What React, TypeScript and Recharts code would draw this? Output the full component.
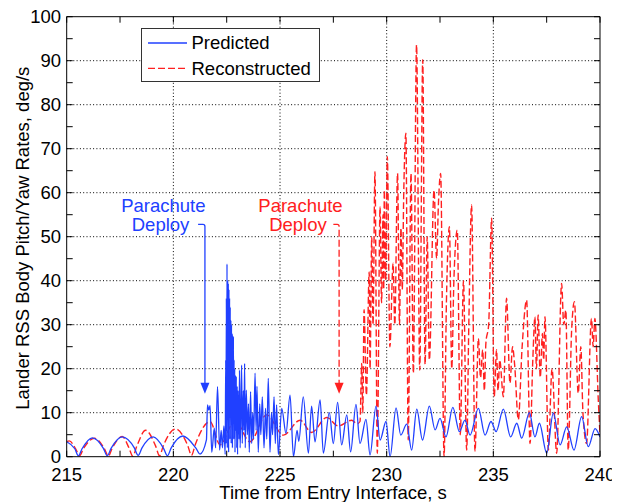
import React from 'react';
import { LineChart, Line, XAxis, YAxis, ReferenceLine, ReferenceDot, Legend } from 'recharts';

const predictedTime = [
  215.0, 215.38, 215.55, 215.72, 216.2, 216.72, 216.9, 217.08, 217.6, 218.17, 218.35, 218.53, 219.05, 219.54, 219.72,
  219.9, 220.45, 221.05, 221.25, 221.55, 221.6, 221.66, 221.72, 221.8,
  221.92, 221.98, 222.07, 222.17, 222.24, 222.3, 222.37, 222.43, 222.455, 222.47, 222.485, 222.5, 222.515, 222.53,
  222.545, 222.56, 222.575, 222.59, 222.605, 222.62, 222.635, 222.65, 222.665, 222.68, 222.695, 222.71, 222.725,
  222.74, 222.755, 222.77, 222.785, 222.8, 222.815, 222.83, 222.845, 222.86, 222.875, 222.89, 222.91, 222.93,
  222.95, 222.97, 222.99, 223.01, 223.03, 223.08, 223.1, 223.13, 223.17, 223.2, 223.23, 223.28, 223.31, 223.34,
  223.37, 223.42, 223.47, 223.52, 223.56, 223.62, 223.67, 223.72, 223.76, 223.83, 223.88, 223.92, 223.98, 224.05,
  224.1, 224.17, 224.25, 224.32, 224.38, 224.45, 224.53, 224.6, 224.65, 224.72, 224.78, 224.84, 224.92, 225.08,
  225.28, 225.47, 225.63, 225.8, 225.88, 226.09, 226.33, 226.48, 226.64, 226.88, 227.03, 227.31, 227.5, 227.7,
  227.89, 228.13, 228.31, 228.56, 228.75, 229.03, 229.22, 229.5, 229.69, 229.97, 230.16, 230.44, 230.66, 230.94,
  231.17, 231.41, 231.68, 232.0, 232.27, 232.5, 232.78, 233.1, 233.41, 233.67, 233.91, 234.3, 234.61, 234.89,
  235.13, 235.47, 235.81, 236.1, 236.33, 236.69, 236.95, 237.16, 237.5, 237.81, 238.13, 238.44, 238.78, 239.14,
  239.45, 239.77, 240.0,
];
const predictedRate = [
  3.4, 1.8, 0.2, 1.8, 4.3, 1.9, 0.2, 1.9, 4.5, 2.0, 0.3, 2.0, 4.5, 1.9, 0.2,
  2.0, 4.7, 2.0, 0.6, 3.8, 11.8, 10.6, 11.6, 1.0,
  6.5, 2.0, 15.9, 1.5, 6.0, 2.0, 7.0, 0.5, 22.0, 3.0, 36.0, 6.0, 43.8, 2.0,
  40.0, 9.0, 39.4, 1.0, 38.0, 12.0, 36.0, 4.0, 34.0, 14.0, 31.0, 3.0, 30.0,
  10.0, 28.0, 2.0, 27.5, 11.0, 27.3, 4.0, 22.0, 8.0, 20.0, 1.0, 18.5, 6.0,
  18.2, 2.0, 16.0, 0.5, 15.0, 4.0, 19.7, 2.0, 12.0, 20.8, 3.0, 15.0, 6.0, 21.2,
  2.0, 15.1, 5.0, 12.0, 1.0, 14.8, 3.0, 10.0, 4.0, 19.0, 6.0, 16.0, 1.0, 12.0,
  5.0, 13.6, 2.0, 11.0, 4.0, 17.8, 1.0, 10.0, 5.0, 13.6, 3.0, 11.8, 0.5, 11.0,
  5.3, 14.0, 0.0, 6.0, 3.5, 13.6, 0.8, 11.5, 3.4, 12.9, 0.8, 10.0, 3.0, 12.35,
  2.7, 9.5, 1.1, 11.9, 3.0, 8.5, 0.4, 11.5, 3.8, 8.0, 0.0, 11.1, 4.9, 7.4,
  1.5, 10.8, 3.8, 11.5, 6.1, 8.7, 4.5, 11.2, 5.7, 8.3, 4.9, 11.0, 4.9, 8.0,
  5.7, 10.8, 4.5, 7.6, 4.2, 10.0, 4.5, 7.6, 0.8, 9.9, 2.7, 6.8, 1.5, 9.1,
  2.3, 6.4, 4.5,
];

const reconstructedTime = [
  215.0, 215.12, 215.42, 215.6, 215.78, 216.3, 216.77, 216.95, 217.13, 217.6, 217.92, 218.1, 218.28, 218.7, 219.17,
  219.35, 219.53, 220.1, 220.67, 220.85, 221.03, 221.72, 222.19, 222.89, 223.59,
  224.37, 225.16, 225.94, 226.48, 227.19, 227.73, 228.36, 228.62, 228.75, 228.83, 228.88, 228.94, 229.05, 229.18,
  229.22, 229.3, 229.36, 229.45, 229.56, 229.69, 229.76, 229.83, 229.86, 229.89, 229.95, 230.03, 230.15, 230.3,
  230.38, 230.51, 230.6, 230.67, 230.73, 230.8, 230.9, 231.01, 231.14, 231.25, 231.4, 231.55, 231.69, 231.8, 231.9,
  232.0, 232.22, 232.34, 232.43, 232.53, 232.69, 232.8, 232.94, 233.05, 233.15, 233.31, 233.45, 233.6, 233.75,
  233.85, 233.98, 234.14, 234.3, 234.4, 234.5, 234.58, 234.65, 234.78, 234.92, 235.04, 235.15, 235.22, 235.3,
  235.47, 235.62, 235.78, 235.9, 236.0, 236.17, 236.35, 236.56, 236.72, 236.85, 236.95, 237.02, 237.1, 237.2,
  237.3, 237.36, 237.42, 237.58, 237.75, 237.97, 238.2, 238.3, 238.4, 238.51, 238.67, 238.8, 238.98, 239.1, 239.2,
  239.37, 239.6, 239.68, 239.76, 239.92, 240.0,
];
const reconstructedRate = [
  3.4, 3.6, 1.8, 0.2, 1.8, 4.2, 1.8, 0.1, 1.9, 4.6, 2.0, 0.1, 2.3, 6.0, 2.4,
  0.2, 2.5, 6.3, 2.6, 0.3, 2.8, 8.0, 2.7, 8.3, 3.4,
  9.5, 4.9, 8.3, 5.5, 8.9, 7.0, 8.3, 7.5, 8.0, 21.2, 10, 33.4, 14, 42,
  20, 50, 30, 64.8, 0.8, 56.8, 35, 55, 38, 60.6, 40, 68.2, 25, 44,
  30, 64.4, 30, 52, 38, 60, 73.5, 3.8, 64.4, 19, 93.6, 19.7, 90.2, 21, 50,
  22, 60.6, 45, 58, 64.4, 0, 35, 52.3, 20, 40, 51.5, 5, 40, 1.5,
  30, 57.2, 1.2, 26.9, 18, 24.3, 15, 25.8, 30, 54.2, 13.6, 24.3, 15, 22,
  13.6, 36, 16.7, 25, 20.8, 8.4, 25, 35.6, 3, 22, 31.8, 20, 32.2, 18,
  28, 22, 31.8, 1.5, 20, 0.8, 39.4, 30, 33.3, 1.5, 28.8, 35.2, 14.4, 25, 10,
  3, 31.4, 25, 31.4, 12.9, 5,
];

const xTicks = [215, 217.5, 220, 222.5, 225, 227.5, 230, 232.5, 235, 237.5, 240];
const xLabelTicks = [215, 220, 225, 230, 235, 240];
const yTicks = [0, 5, 10, 15, 20, 25, 30, 35, 40, 45, 50, 55, 60, 65, 70, 75, 80, 85, 90, 95, 100];
const yLabelTicks = [0, 10, 20, 30, 40, 50, 60, 70, 80, 90, 100];
const xGrid = [220, 225, 230, 235];
const yGrid = [10, 20, 30, 40, 50, 60, 70, 80, 90];

const predictedDeploy = { t: 221.48, tip: 14.3, hookT: 221.16, hookV: 52.8 };
const reconstructedDeploy = { t: 227.77, tip: 14.3, hookT: 227.5, hookV: 52.8 };

const BLUE = '#2040ff';
const RED = '#ff2020';
const FONT = '"Liberation Sans", Arial, Helvetica, sans-serif';
const FS = 18.5;

const predictedData = predictedTime.map((t, i) => ({ t, v: predictedRate[i] }));
const reconstructedData = reconstructedTime.map((t, i) => ({ t, v: reconstructedRate[i] }));

const BottomTick = (props: any) => {
  const { x, y, payload } = props;
  const v = payload.value;
  return (
    <g>
      <line x1={x} y1={y} x2={x} y2={y - 6} stroke="#000" strokeWidth={1} />
      {xLabelTicks.includes(v) && (
        <text x={x} y={y + 24} textAnchor="middle" fontSize={FS} fontFamily={FONT} fill="#000">{v}</text>
      )}
    </g>
  );
};
const TopTick = (props: any) => {
  const { x, y } = props;
  return <line x1={x} y1={y} x2={x} y2={y + 6} stroke="#000" strokeWidth={1} />;
};
const LeftTick = (props: any) => {
  const { x, y, payload } = props;
  const v = payload.value;
  return (
    <g>
      <line x1={x} y1={y} x2={x + 6} y2={y} stroke="#000" strokeWidth={1} />
      {yLabelTicks.includes(v) && (
        <text x={x - 5.7} y={y} dy="0.35em" textAnchor="end" fontSize={FS} fontFamily={FONT} fill="#000">{v}</text>
      )}
    </g>
  );
};
const RightTick = (props: any) => {
  const { x, y } = props;
  return <line x1={x} y1={y} x2={x - 6} y2={y} stroke="#000" strokeWidth={1} />;
};

const arrowShape = (color: string, dash?: string) => (props: any) => {
  const { x1, y1, x2, y2 } = props;
  const tip = Math.max(y1, y2);
  const hy = Math.min(y1, y2);
  const ax = x2;
  return (
    <g>
      <path d={`M${x1},${hy} H${ax - 2} Q${ax},${hy} ${ax},${hy + 2} V${tip - 10}`} fill="none" stroke={color} strokeWidth={1.3} strokeDasharray={dash} />
      <polygon points={`${ax - 4.5},${tip - 11} ${ax + 4.5},${tip - 11} ${ax},${tip}`} fill={color} />
    </g>
  );
};

const LegendBox = () => (
  <svg width={179} height={54} style={{ display: 'block' }}>
    <rect x={0.5} y={0.5} width={178} height={53} fill="#fff" stroke="#333" strokeWidth={1} />
    <line x1={7} y1={15} x2={46} y2={15} stroke={BLUE} strokeWidth={1.3} />
    <text x={50.5} y={15} dy="0.35em" fontSize={FS} fontFamily={FONT} fill="#000">Predicted</text>
    <line x1={7} y1={40.3} x2={46} y2={40.3} stroke={RED} strokeWidth={1.3} strokeDasharray="7 3" />
    <text x={50.5} y={40.3} dy="0.35em" fontSize={FS} fontFamily={FONT} fill="#000">Reconstructed</text>
  </svg>
);

const textLabel = (value: string, color: string) => ({ value, position: 'center' as const, fill: color, fontSize: FS, fontFamily: FONT });

export default function App() {
  return (
    <div style={{ width: 604, height: 494, fontFamily: FONT, background: '#fff' }}>
      <LineChart width={604} height={494} margin={{ top: 7.7, right: 11, bottom: 0, left: 0 }}>
        <XAxis
          xAxisId="bottom"
          dataKey="t"
          type="number"
          domain={[215, 240]}
          allowDataOverflow
          ticks={xTicks}
          interval={0}
          tickSize={0}
          tickMargin={0}
          tickLine={false}
          height={45.3}
          axisLine={{ stroke: '#000', strokeWidth: 1 }}
          tick={<BottomTick />}
          label={(p: any) => {
            const vb = p.viewBox;
            return (
              <text x={vb.x + vb.width / 2 - 0.3} y={vb.y + 42.3} textAnchor="middle" fontSize={FS} fontFamily={FONT} fill="#000">
                Time from Entry Interface, s
              </text>
            );
          }}
        />
        <XAxis
          xAxisId="top"
          orientation="top"
          dataKey="t"
          type="number"
          domain={[215, 240]}
          allowDataOverflow
          ticks={xTicks}
          interval={0}
          tickSize={0}
          tickMargin={0}
          tickLine={false}
          height={1}
          axisLine={{ stroke: '#000', strokeWidth: 1 }}
          tick={<TopTick />}
        />
        <YAxis
          yAxisId="left"
          type="number"
          domain={[0, 100]}
          allowDataOverflow
          ticks={yTicks}
          interval={0}
          tickSize={0}
          tickMargin={0}
          tickLine={false}
          width={58.7}
          axisLine={{ stroke: '#000', strokeWidth: 1 }}
          tick={<LeftTick />}
          label={(p: any) => {
            const vb = p.viewBox;
            const cx = 14.5;
            const cy = vb.y + vb.height / 2 + 1.5;
            return (
              <text x={cx} y={cy} dy="0.35em" textAnchor="middle" transform={`rotate(-90, ${cx}, ${cy})`} fontSize={FS} fontFamily={FONT} fill="#000">
                Lander RSS Body Pitch/Yaw Rates, deg/s
              </text>
            );
          }}
        />
        <YAxis
          yAxisId="right"
          orientation="right"
          type="number"
          domain={[0, 100]}
          allowDataOverflow
          ticks={yTicks}
          interval={0}
          tickSize={0}
          tickMargin={0}
          tickLine={false}
          width={1}
          axisLine={{ stroke: '#000', strokeWidth: 1 }}
          tick={<RightTick />}
        />
        {xGrid.map((g) => (
          <ReferenceLine key={`gx${g}`} x={g} xAxisId="bottom" yAxisId="left" stroke="#000" strokeWidth={1} strokeDasharray="1 2.3" />
        ))}
        {yGrid.map((g) => (
          <ReferenceLine key={`gy${g}`} y={g} xAxisId="bottom" yAxisId="left" stroke="#000" strokeWidth={1} strokeDasharray="1 2.3" />
        ))}
        <Line
          data={reconstructedData}
          dataKey="v"
          xAxisId="bottom"
          yAxisId="left"
          type="monotone"
          stroke={RED}
          strokeWidth={1.4}
          strokeDasharray="7 3"
          dot={false}
          activeDot={false}
          isAnimationActive={false}
          name="Reconstructed"
        />
        <Line
          data={predictedData}
          dataKey="v"
          xAxisId="bottom"
          yAxisId="left"
          type="monotone"
          stroke={BLUE}
          strokeWidth={1.3}
          dot={false}
          activeDot={false}
          isAnimationActive={false}
          name="Predicted"
        />
        <ReferenceLine
          xAxisId="bottom"
          yAxisId="left"
          segment={[{ x: predictedDeploy.hookT, y: predictedDeploy.hookV }, { x: predictedDeploy.t, y: predictedDeploy.tip }]}
          stroke={BLUE}
          shape={arrowShape(BLUE)}
        />
        <ReferenceLine
          xAxisId="bottom"
          yAxisId="left"
          segment={[{ x: reconstructedDeploy.hookT, y: reconstructedDeploy.hookV }, { x: reconstructedDeploy.t, y: reconstructedDeploy.tip }]}
          stroke={RED}
          shape={arrowShape(RED, '7 3')}
        />
        <ReferenceDot xAxisId="bottom" yAxisId="left" x={219.53} y={57.0} r={0} fill="none" stroke="none" label={textLabel('Parachute', BLUE)} />
        <ReferenceDot xAxisId="bottom" yAxisId="left" x={219.4} y={52.7} r={0} fill="none" stroke="none" label={textLabel('Deploy', BLUE)} />
        <ReferenceDot xAxisId="bottom" yAxisId="left" x={225.96} y={57.0} r={0} fill="none" stroke="none" label={textLabel('Parachute', RED)} />
        <ReferenceDot xAxisId="bottom" yAxisId="left" x={225.84} y={52.7} r={0} fill="none" stroke="none" label={textLabel('Deploy', RED)} />
        <Legend
          layout="vertical"
          align="center"
          verticalAlign="middle"
          content={<LegendBox />}
          wrapperStyle={{ left: 132.6, top: 19.7, width: 179, height: 54 }}
        />
      </LineChart>
    </div>
  );
}
